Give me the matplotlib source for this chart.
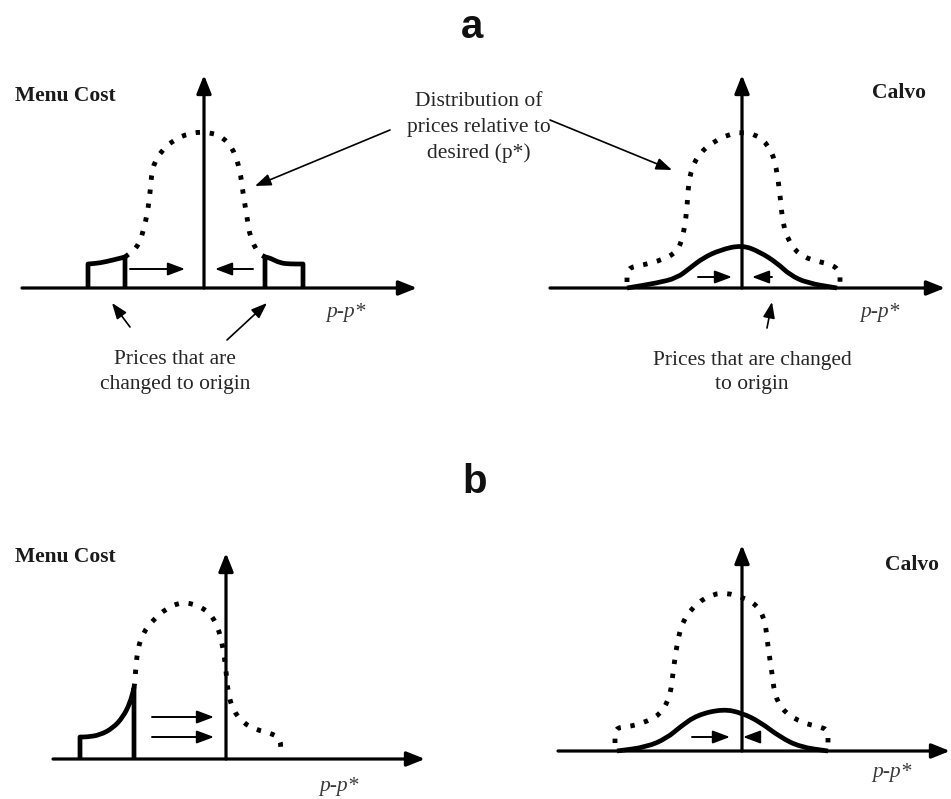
import matplotlib
matplotlib.use("Agg")
import matplotlib.pyplot as plt
from matplotlib.path import Path
from matplotlib.patches import PathPatch

# ---------------------------------------------------------------------------
# Curve samples: (p - p*) offset from the origin and density height
# ---------------------------------------------------------------------------
# a) Menu cost
mc_a_dist_x = [-79, -67, -61, -56, -54, -52, -48, -44, -31, -14, 0, 16, 29, 36, 39, 43, 46, 54, 61]
mc_a_dist_y = [31, 40, 55, 78, 95, 118, 128, 135, 148, 155, 156, 153, 140, 118, 95, 71, 51, 35, 31]
mc_a_left_x = [-116, -116, -104, -91, -79, -79]
mc_a_left_y = [0, 24, 25, 28, 31, 0]
mc_a_right_x = [61, 61, 66, 76, 86, 99, 99]
mc_a_right_y = [0, 31, 30, 25, 24, 24, 0]
mc_a_shift_from = [-74, 49]
mc_a_shift_to = [-19, 11]
mc_a_shift_h = [19, 19]

# a) Calvo
cv_a_dist_x = [-115, -115, -99, -80, -65, -59, -55, -54, -50, -42, -29, -12, 0, 15, 26, 33, 38,
               41, 50, 61, 78, 91, 98, 98]
cv_a_dist_y = [6, 20, 23, 28, 36, 51, 78, 101, 121, 135, 146, 154, 156, 153, 143, 128, 95,
               61, 41, 31, 26, 23, 16, 6]
cv_a_chg_x = [-115, -85, -65, -52, -39, -22, 0, 18, 35, 48, 65, 95]
cv_a_chg_y = [0, 5, 10, 20, 30, 38, 43, 36, 25, 13, 5, 0]
cv_a_shift_from = [-44, 30]
cv_a_shift_to = [-10, 10]
cv_a_shift_h = [11, 11]

# b) Menu cost
mc_b_dist_x = [-92, -91, -90, -88, -83, -73, -59, -44, -29, -16, -8, -3, 0, 2, 7, 17, 31, 44, 54, 55]
mc_b_dist_y = [71, 79, 94, 111, 126, 139, 151, 157, 154, 146, 132, 112, 89, 66, 49, 36, 29, 26, 21, 9]
mc_b_chg_x = [-146, -146, -139, -126, -113, -103, -96, -92, -92]
mc_b_chg_y = [0, 22, 22, 24, 31, 42, 56, 71, 0]
mc_b_shift_from = [-74, -74]
mc_b_shift_to = [-12, -12]
mc_b_shift_h = [42, 22]

# b) Calvo
cv_b_dist_x = [-127, -127, -115, -99, -82, -72, -69, -65, -59, -45, -29, -15, 0, 15, 23, 26, 30,
               33, 43, 61, 78, 86, 86]
cv_b_dist_y = [8, 23, 24, 28, 36, 54, 78, 108, 131, 148, 157, 158, 154, 146, 131, 104, 78,
               54, 38, 28, 24, 21, 8]
cv_b_chg_x = [-125, -95, -75, -62, -45, -19, 0, 18, 38, 58, 86]
cv_b_chg_y = [0, 4, 13, 24, 36, 42, 38, 29, 14, 4, 0]
cv_b_shift_from = [-50, 13]
cv_b_shift_to = [-12, 1]
cv_b_shift_h = [14, 14]

# Text
panel_letters = ["a", "b"]
model_names = ["Menu Cost", "Calvo"]
axis_label = "p-p*"
dist_note = ["Distribution of", "prices relative to", "desired (p*)"]
mc_note = ["Prices that are", "changed to origin"]
cv_note = ["Prices that are changed", "to origin"]

# ---------------------------------------------------------------------------
W, H = 951, 799
fig = plt.figure(figsize=(W / 100, H / 100), dpi=100)
fig.patch.set_facecolor("white")

SERIF = "Liberation Serif"
SANS = "Liberation Sans"
TXT = "#262626"
FS = 15.5

AXIS_LW = 2.3
CURVE_LW = 3.4
DOT_KW = dict(edgecolor="black", facecolor="none", lw=3.5, linestyle=(0, (0.9, 2.0)),
              capstyle="butt", joinstyle="round")
SOLID_KW = dict(edgecolor="black", facecolor="none", lw=CURVE_LW, capstyle="butt",
                joinstyle="round")


def panel(box, origin):
    """Axes spanning a pixel box; data units are pixels measured from the origin."""
    x0, y0, x1, y1 = box
    ax = fig.add_axes([x0 / W, 1 - y1 / H, (x1 - x0) / W, (y1 - y0) / H])
    ox, oy = origin
    ax.set_xlim(x0 - ox, x1 - ox)
    ax.set_ylim(oy - y1, oy - y0)
    ax.axis("off")
    return ax


def _mid(p, q):
    return ((p[0] + q[0]) / 2, (p[1] + q[1]) / 2)


def smooth_curve(ax, xs, ys, style):
    """Quadratic-Bezier path through the sample points (corner-free rendering)."""
    pts = list(zip(xs, ys))
    verts = [pts[0], _mid(pts[0], pts[1])]
    codes = [Path.MOVETO, Path.LINETO]
    for i in range(1, len(pts) - 1):
        verts += [pts[i], _mid(pts[i], pts[i + 1])]
        codes += [Path.CURVE3, Path.CURVE3]
    verts.append(pts[-1])
    codes.append(Path.LINETO)
    ax.add_patch(PathPatch(Path(verts, codes), **style))


def step_curve(ax, xs, ys, style):
    """Tail pieces: vertical sides kept sharp, tops smoothed."""
    pts = list(zip(xs, ys))
    verts = [pts[0], pts[1]]
    codes = [Path.MOVETO, Path.LINETO]
    top = pts[1:-1]
    if len(top) > 2:
        verts.append(_mid(top[0], top[1]))
        codes.append(Path.LINETO)
        for i in range(1, len(top) - 1):
            verts += [top[i], _mid(top[i], top[i + 1])]
            codes += [Path.CURVE3, Path.CURVE3]
    verts += [top[-1], pts[-1]]
    codes += [Path.LINETO, Path.LINETO]
    ax.add_patch(PathPatch(Path(verts, codes), **style))


def draw_axes(ax, xmin, xmax, ymax):
    head = dict(arrowstyle="-|>,head_length=1.0,head_width=0.4", lw=AXIS_LW, color="black",
                shrinkA=0, shrinkB=0, mutation_scale=11)
    ax.annotate("", xy=(xmax, 0), xytext=(xmin, 0), arrowprops=head)
    ax.annotate("", xy=(0, ymax), xytext=(0, 0), arrowprops=head)


def thin_arrow(ax, start, end, lw=1.2, scale=12):
    ax.annotate("", xy=end, xytext=start,
                arrowprops=dict(arrowstyle="-|>,head_length=0.8,head_width=0.3", lw=lw,
                                color="black", shrinkA=0, shrinkB=0, mutation_scale=scale))


def shifts(ax, xs, xe, hs):
    for a, b, h in zip(xs, xe, hs):
        thin_arrow(ax, (a, h), (b, h), lw=1.4, scale=13)


def lines_of_text(ax, x, y_first, lines, step=25):
    for i, s in enumerate(lines):
        ax.text(x, y_first - i * step, s, ha="center", va="center", fontsize=FS,
                family=SERIF, color=TXT)


def axis_name(ax, x, y):
    ax.text(x, y, axis_label, ha="center", va="center", fontsize=FS, family=SERIF,
            style="italic", color="#3a3a3a")


def model_name(ax, x, y, s, ha):
    ax.text(x, y, s, ha=ha, va="center", fontsize=FS, family=SERIF, weight="bold",
            color="#1a1a1a")


# ---- a) Menu cost ---------------------------------------------------------
ax1 = panel((0, 0, 475, 420), (204, 288))
draw_axes(ax1, -182, 213, 213)
smooth_curve(ax1, mc_a_dist_x, mc_a_dist_y, DOT_KW)
step_curve(ax1, mc_a_left_x, mc_a_left_y, SOLID_KW)
step_curve(ax1, mc_a_right_x, mc_a_right_y, SOLID_KW)
shifts(ax1, mc_a_shift_from, mc_a_shift_to, mc_a_shift_h)
model_name(ax1, -189, 192, model_names[0], "left")
axis_name(ax1, 142, -25)
lines_of_text(ax1, -29, -72, mc_note)
thin_arrow(ax1, (-74, -39), (-92, -15))
thin_arrow(ax1, (23, -52), (63, -15))
thin_arrow(ax1, (186, 158), (51, 102))

# ---- a) Calvo -------------------------------------------------------------
ax2 = panel((475, 0, 951, 420), (742, 288))
draw_axes(ax2, -192, 203, 213)
smooth_curve(ax2, cv_a_dist_x, cv_a_dist_y, DOT_KW)
smooth_curve(ax2, cv_a_chg_x, cv_a_chg_y, SOLID_KW)
shifts(ax2, cv_a_shift_from, cv_a_shift_to, cv_a_shift_h)
model_name(ax2, 157, 195, model_names[1], "center")
axis_name(ax2, 138, -25)
lines_of_text(ax2, 10, -72, cv_note)
thin_arrow(ax2, (25, -40), (30, -14))
thin_arrow(ax2, (-192, 168), (-70, 118))

# ---- b) Menu cost ---------------------------------------------------------
ax3 = panel((0, 420, 475, 799), (226, 759))
draw_axes(ax3, -173, 199, 206)
smooth_curve(ax3, mc_b_dist_x, mc_b_dist_y, DOT_KW)
step_curve(ax3, mc_b_chg_x, mc_b_chg_y, SOLID_KW)
shifts(ax3, mc_b_shift_from, mc_b_shift_to, mc_b_shift_h)
model_name(ax3, -211, 202, model_names[0], "left")
axis_name(ax3, 113, -28)

# ---- b) Calvo -------------------------------------------------------------
ax4 = panel((475, 420, 951, 799), (742, 751))
draw_axes(ax4, -184, 208, 206)
smooth_curve(ax4, cv_b_dist_x, cv_b_dist_y, DOT_KW)
smooth_curve(ax4, cv_b_chg_x, cv_b_chg_y, SOLID_KW)
shifts(ax4, cv_b_shift_from, cv_b_shift_to, cv_b_shift_h)
model_name(ax4, 170, 186, model_names[1], "center")
axis_name(ax4, 150, -22)

# ---- shared labels --------------------------------------------------------
for i, s in enumerate(dist_note):
    fig.text(479 / W, 1 - (102 + 25.5 * i) / H, s, ha="center", va="center", fontsize=FS,
             family=SERIF, color=TXT)
fig.text(472 / W, 1 - 38 / H, panel_letters[0], ha="center", va="baseline", fontsize=29,
         family=SANS, weight="bold", color="#111111")
fig.text(475 / W, 1 - 493 / H, panel_letters[1], ha="center", va="baseline", fontsize=29,
         family=SANS, weight="bold", color="#111111")

fig.savefig("out.png", dpi=100, facecolor="white")
